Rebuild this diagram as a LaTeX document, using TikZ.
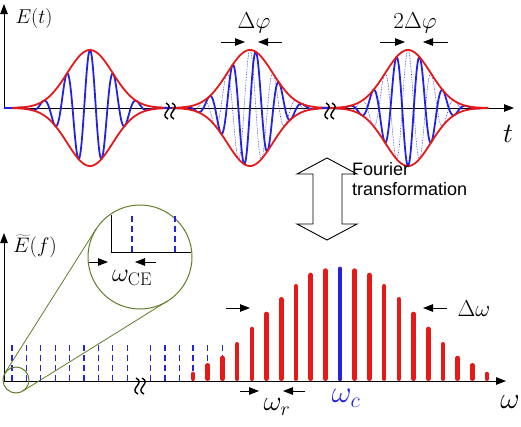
\RequirePackage{fix-cm}
\documentclass[tikz,border=0pt]{standalone}
\usepackage{fontspec}
\setsansfont{Liberation Sans}
\usetikzlibrary{arrows.meta}
\definecolor{pulseblue}{RGB}{35,35,225}
\definecolor{envred}{RGB}{230,25,25}
\definecolor{zoomgreen}{RGB}{95,125,40}
% two wiggles cutting an axis
\newcommand{\axbreak}[2]{%
	\foreach \dx in {-3,3}
	\draw[line width=1.4pt] ({#1+\dx-1},{#2-8}) .. controls ({#1+\dx+9},{#2-3}) and ({#1+\dx-9},{#2+3}) .. ({#1+\dx+1},{#2+8});
}
\begin{document}
\begin{tikzpicture}[>={Stealth[inset=0pt,length=10pt,width=7.5pt]},x=1pt,y=-1pt,
	declare function={env(\t,\c)=58*exp(-0.00097*(\t-\c)^2);},
	lab/.style={inner sep=0pt,font=\fontsize{20}{24}\selectfont},
	biglab/.style={inner sep=0pt,font=\fontsize{28}{32}\selectfont},
	carrier/.style={pulseblue,line width=1.8pt,samples=300,smooth},
	envelope/.style={envred,line width=1.8pt,samples=120,smooth},
	comb/.style={pulseblue,line width=1.1pt,dash pattern=on 6pt off 4pt},
	bar/.style={envred,line width=4.6pt,line cap=round}]
	\useasboundingbox (0,0) rectangle (521,426);
	\def\k{15.45} % carrier, degrees per unit
	%	time domain
	\draw[->,line width=1pt] (4,108) -- (4,4);
	\draw[->,line width=1pt] (4,108) -- (514,108);
	\node[lab] (Et) at (34,18) {$E(t)$};
	\node[biglab] (tlab) at (508,134) {$t$};
	\foreach \c in {250,408}
	\draw[pulseblue,densely dotted,line width=0.6pt,samples=300,smooth,domain=\c-80:\c+80] plot(\x,{108-env(\x,\c)*cos(\k*(\x-\c))});
	\foreach \c/\ph in {90/0,250/90,408/180}{
		\draw[carrier,domain=\c-86:\c+80] plot(\x,{108-env(\x,\c)*cos(\k*(\x-\c)-\ph)});
		\draw[envelope,domain=\c-78:\c+80] plot(\x,{108-env(\x,\c)});
		\draw[envelope,domain=\c-78:\c+80] plot(\x,{108+env(\x,\c)});
	}
	\axbreak{170}{111}
	\axbreak{330}{111}
	\node[lab,font=\fontsize{23}{27}\selectfont] (dphi) at (254,23) {$\Delta\varphi$};
	\draw[->,line width=1pt] (221,42) -- (245,42);
	\draw[->,line width=1pt] (282,42) -- (258,42);
	\node[lab,font=\fontsize{23}{27}\selectfont] (ddphi) at (415,23) {$2\Delta\varphi$};
	\draw[->,line width=1pt] (380,42) -- (405,42);
	\draw[->,line width=1pt] (448,42) -- (423,42);
	%	Fourier arrow
	\draw[line width=0.9pt] (327,158) -- (357,174) -- (342,174) -- (342,224) -- (357,224) -- (327,240)
		-- (297,224) -- (313,224) -- (313,174) -- (297,174) -- cycle;
	\node[inner sep=0pt,anchor=base west,align=left,font=\sffamily\fontsize{18}{20}\selectfont] (ft) at (352,195) {Fourier\\transformation};
	%	frequency domain
	\foreach \x in {12,26.4,40.8,55.2,69.6,84,98.4,112.8,127.2,150.5,165,179.5,193,207.7,222.4,237.1,251.8}
	\draw[comb] (\x,381) -- (\x,345);
	\foreach \h [count=\i from 0] in {9.3,18,25.3,39,54.3,69.3,84,97,108.3,112.7,114.3,112.7,108.3,97,84,69.3,54.3,39,25.3,18,9.3}
	\draw[bar] ({193+14.7*\i},378.7) -- ({193+14.7*\i},{383.3-\h});
	\draw[bar,pulseblue] (340,378.7) -- (340,269);
	\draw[->,line width=1pt] (4,382) -- (4,233);
	\draw[->,line width=1pt] (4,381) -- (506,381);
	\axbreak{140}{386}
	\node[lab,font=\fontsize{21}{25}\selectfont] (Ef) at (35,246) {$\widetilde{E}(f)$};
	\node[biglab,font=\fontsize{30}{34}\selectfont] (wlab) at (510,402) {$\omega$};
	\node[biglab] (wr) at (277,407) {$\omega_r$};
	\node[biglab,pulseblue,font=\fontsize{31}{35}\selectfont] (wc) at (346,398) {$\omega_c$};
	\node[lab,font=\fontsize{23}{27}\selectfont] (dw) at (474,309) {$\Delta\omega$};
	\draw[->,line width=1pt] (240,391) -- (259,391);
	\draw[->,line width=1pt] (305,391) -- (283,391);
	\draw[->,line width=1pt] (226,308) -- (250,308);
	\draw[->,line width=1pt] (447,308) -- (423,308);
	%	zoom on the comb offset
	\draw[zoomgreen,line width=1pt] (16,380) circle (13);
	\draw[zoomgreen,line width=1pt] (140,257) circle (52);
	\draw[zoomgreen,line width=0.8pt] (5,373) -- (96,229);
	\draw[zoomgreen,line width=0.8pt] (22.9,391) -- (167.5,301);
	\draw[line width=1pt] (111,215) -- (111,252) -- (191,252);
	\foreach \x in {132,175}
	\draw[comb] (\x,252) -- (\x,215);
	\draw[->,line width=1pt] (89,262) -- (108,262);
	\draw[->,line width=1pt] (156,262) -- (135,262);
	\node[biglab,font=\fontsize{26}{30}\selectfont] (wce) at (132,278) {$\omega_{\mathrm{CE}}$};
\end{tikzpicture}
\end{document}
